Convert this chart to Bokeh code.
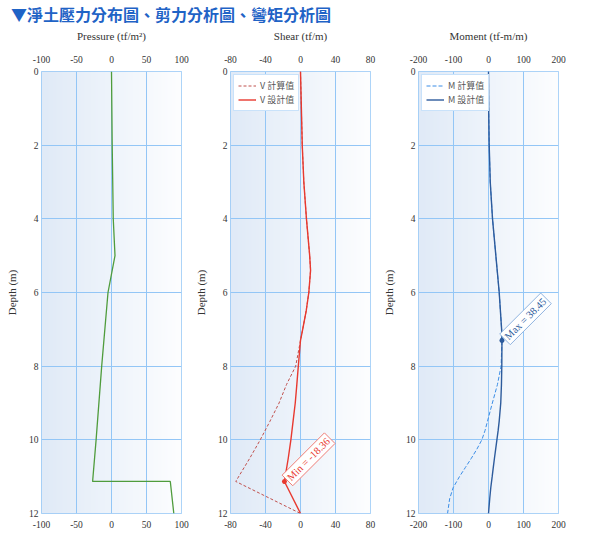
import numpy as np
from bokeh.plotting import figure
from bokeh.models import Range1d, FixedTicker, LinearAxis, Label, Legend, LegendItem, Div
from bokeh.layouts import row, column
from bokeh.embed import file_html
from bokeh.resources import INLINE

# ---------------- data ----------------
title_text = "▼淨土壓力分布圖、剪力分析圖、彎矩分析圖"
depth_ticks = [0, 2, 4, 6, 8, 10, 12]

pressure_ticks = [-100, -50, 0, 50, 100]
pressure_depth = [0, 2, 4, 5, 6, 8, 10, 11.13, 11.13, 12]
pressure_value = [0, 1, 2.5, 5, -5, -14, -22, -27, 84, 89]

shear_ticks = [-80, -40, 0, 40, 80]
shear_depth = [0, 1, 2, 3, 4, 5, 5.4, 6, 6.5, 7, 7.3, 8, 8.5, 9, 9.5, 10, 10.5, 11.13, 12]
shear_calc = [0, 1, 2, 3.8, 6.8, 10.5, 11.5, 9.5, 6.5, 2.5, 0, -5.5, -16, -24.5, -35, -46, -58, -74, 0]
shear_design = [0, 1, 2, 3.8, 6.8, 10.5, 11.5, 9.5, 6.5, 2.5, 0, -2.5, -4.2, -6, -8.5, -11, -14, -18.36, 0]

moment_ticks = [-200, -100, 0, 100, 200]
moment_depth = [0, 1, 2, 3, 4, 5, 6, 7, 7.3, 8, 8.5, 9, 9.5, 9.75, 10, 10.25, 10.5, 10.75, 11, 11.3, 11.6, 12]
moment_calc = [0, 0.5, 2, 5, 11.5, 21, 30.6, 37.5, 38.45, 36, 25.5, 11, -3, -10, -19, -33, -49, -66, -83, -101, -111, -117]
moment_design = [0, 0.5, 2, 5, 11.5, 21, 30.6, 37.5, 38.45, 38, 37, 35, 30.5, 27.5, 24, 20.5, 17, 13.7, 10.5, 6.5, 3.5, 0]

# ---------------- style ----------------
SERIF = "Liberation Serif"
CJK = "Noto Sans CJK TC"
GRID = "#93c6f6"
FRAME = "#93c6f6"
TXT = "#333333"


def gradient_image(n=120):
    img = np.zeros((1, n), dtype=np.uint32)
    view = img.view(dtype=np.uint8).reshape((1, n, 4))
    c0 = np.array([224, 234, 247])
    c1 = np.array([253, 254, 255])
    for i in range(n):
        t = i / (n - 1)
        c = c0 + (c1 - c0) * t
        view[0, i, 0] = int(c[0])
        view[0, i, 1] = int(c[1])
        view[0, i, 2] = int(c[2])
        view[0, i, 3] = 255
    return img


def tick_text(ticks):
    return {t: str(t) for t in ticks}


def make_panel(xlabel, xticks, border_left, border_right):
    xr = Range1d(xticks[0], xticks[-1])
    yr = Range1d(depth_ticks[-1], depth_ticks[0])
    p = figure(frame_width=140, frame_height=442, x_range=xr, y_range=yr,
               output_backend="svg", toolbar_location=None,
               x_axis_location="above",
               min_border_left=border_left, min_border_right=border_right,
               min_border_top=41, min_border_bottom=30,
               background_fill_color="white", border_fill_color="white",
               outline_line_color=FRAME, outline_line_width=1)
    p.margin = (0, 0, 0, 0)
    p.image_rgba(image=[gradient_image()], x=xr.start, y=yr.end,
                 dw=xr.end - xr.start, dh=yr.start - yr.end, level="image")
    p.add_layout(LinearAxis(), "below")
    for ax in p.xaxis:
        ax.ticker = FixedTicker(ticks=xticks)
        ax.major_label_overrides = tick_text(xticks)
        ax.axis_line_color = None
        ax.major_tick_line_color = None
        ax.minor_tick_line_color = None
        ax.major_tick_out = 0
        ax.major_tick_in = 0
        ax.major_label_text_font = SERIF
        ax.major_label_text_font_size = "9.5px"
        ax.major_label_text_color = TXT
    top = p.xaxis[0]
    top.major_label_standoff = 9
    p.xaxis[1].major_label_standoff = 7
    top.axis_label = xlabel
    top.axis_label_text_font = SERIF
    top.axis_label_text_font_size = "11px"
    top.axis_label_text_font_style = "normal"
    top.axis_label_text_color = TXT
    top.axis_label_standoff = 11
    ya = p.yaxis[0]
    ya.ticker = FixedTicker(ticks=depth_ticks)
    ya.major_label_overrides = tick_text(depth_ticks)
    ya.axis_line_color = None
    ya.major_tick_line_color = None
    ya.minor_tick_line_color = None
    ya.major_tick_out = 0
    ya.major_tick_in = 0
    ya.major_label_text_font = SERIF
    ya.major_label_text_font_size = "9.5px"
    ya.major_label_text_color = TXT
    ya.major_label_standoff = 3
    ya.axis_label = "Depth (m)"
    ya.axis_label_text_font = SERIF
    ya.axis_label_text_font_size = "11px"
    ya.axis_label_text_font_style = "normal"
    ya.axis_label_text_color = TXT
    ya.axis_label_standoff = 8
    p.xgrid.ticker = FixedTicker(ticks=xticks)
    p.ygrid.ticker = FixedTicker(ticks=depth_ticks)
    for g in (p.xgrid[0], p.ygrid[0]):
        g.grid_line_color = GRID
        g.grid_line_width = 1
        g.grid_line_alpha = 1
    return p


def make_legend(p, items):
    lg = Legend(items=items, location="top_left", margin=3, padding=4, spacing=1,
                label_text_font=CJK, label_text_font_size="9px", label_text_color="#555555",
                glyph_width=18, glyph_height=11, label_height=11, label_standoff=4,
                border_line_color=FRAME, border_line_width=1,
                background_fill_color="white", background_fill_alpha=1)
    p.add_layout(lg)


# ---------- pressure ----------
p1 = make_panel("Pressure (tf/m²)", pressure_ticks, 41, 9)
p1.line(pressure_value, pressure_depth, line_color="#4f9c3c", line_width=1.3)

# ---------- shear ----------
p2 = make_panel("Shear (tf/m)", shear_ticks, 40, 8)
r_vc = p2.line(shear_calc, shear_depth, line_color="#c0504d", line_width=1, line_dash="3 2")
r_vd = p2.line(shear_design, shear_depth, line_color="#e8392f", line_width=1.4)
make_legend(p2, [LegendItem(label="V 計算值", renderers=[r_vc]),
                 LegendItem(label="V 設計值", renderers=[r_vd])])
i_min = int(np.argmin(shear_design))
v_min = shear_design[i_min]
d_min = shear_depth[i_min]
p2.scatter([v_min], [d_min], marker="asterisk", size=5, line_color="#e8392f", line_width=1.5)
p2.add_layout(Label(x=v_min, y=d_min, text=f"Min = {v_min:.2f}", angle=45, angle_units="deg",
                    x_offset=3, y_offset=1, text_align="left", text_baseline="middle",
                    text_font=SERIF, text_font_size="10.5px", text_color="#e8392f",
                    background_fill_color="white", background_fill_alpha=1,
                    border_line_color="#ef7d76", border_line_width=1, padding=2))

# ---------- moment ----------
p3 = make_panel("Moment (tf-m/m)", moment_ticks, 40, 8)
r_mc = p3.line(moment_calc, moment_depth, line_color="#3b8de6", line_width=1, line_dash="4 2")
r_md = p3.line(moment_design, moment_depth, line_color="#2d5b9c", line_width=1.4)
make_legend(p3, [LegendItem(label="M 計算值", renderers=[r_mc]),
                 LegendItem(label="M 設計值", renderers=[r_md])])
i_max = int(np.argmax(moment_design))
m_max = moment_design[i_max]
d_max = moment_depth[i_max]
p3.scatter([m_max], [d_max], marker="asterisk", size=5, line_color="#2d5b9c", line_width=1.5)
p3.add_layout(Label(x=m_max, y=d_max, text=f"Max = {m_max:.2f}", angle=45, angle_units="deg",
                    x_offset=3, y_offset=1, text_align="left", text_baseline="middle",
                    text_font=SERIF, text_font_size="10.5px", text_color="#2d5b9c",
                    background_fill_color="white", background_fill_alpha=1,
                    border_line_color="#8fb3df", border_line_width=1, padding=2))

title = Div(text=title_text, width=580, height=26, margin=(0, 0, 0, 0),
            styles={"font-size": "16px", "font-weight": "bold", "color": "#1f63c6",
                    "font-family": "'Noto Sans CJK TC', sans-serif", "line-height": "20px",
                    "padding-top": "4px", "padding-left": "11px", "box-sizing": "border-box"})

layout = column(title, row(p1, p2, p3, spacing=0), spacing=0)

open("out.html", "w").write(file_html(layout, INLINE))
